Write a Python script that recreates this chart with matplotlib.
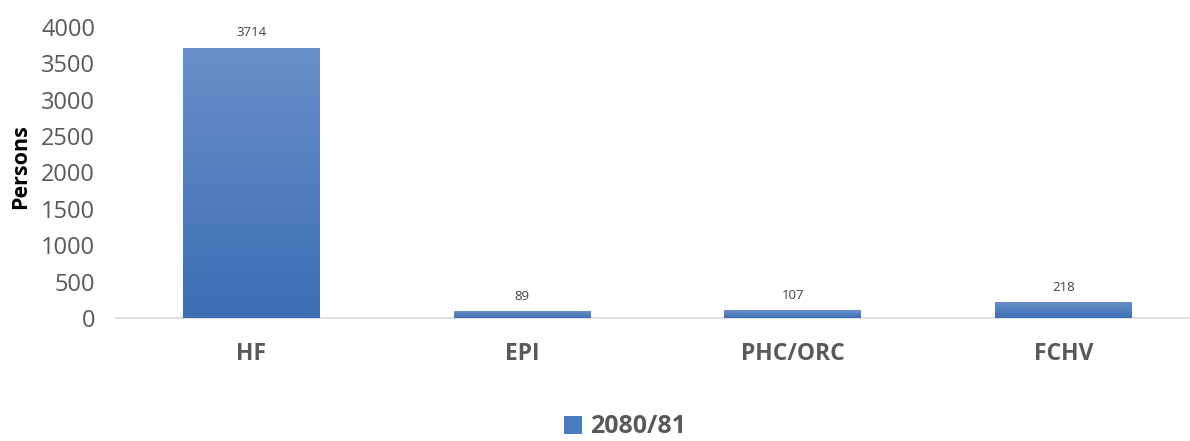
import numpy as np
import matplotlib
matplotlib.use("Agg")
import matplotlib.pyplot as plt
from matplotlib.colors import LinearSegmentedColormap
from matplotlib.patches import Patch

categories = ["HF", "EPI", "PHC/ORC", "FCHV"]
values = [3714, 89, 107, 218]
series_name = "2080/81"
yticks = [0, 500, 1000, 1500, 2000, 2500, 3000, 3500, 4000]

plt.rcParams['font.family'] = ['Open Sans', 'DejaVu Sans']

fig = plt.figure(figsize=(11.9, 4.41), dpi=100)
ax = fig.add_axes([0.0975, 0.279, 0.910, 0.660])

x = np.arange(len(categories))
bars = ax.bar(x, values, width=0.506, color="#4a7cc0", zorder=2)

# vertikal gradient i søylene
cmap = LinearSegmentedColormap.from_list("blue", ["#3b6eb4", "#6990c8"])
grad = np.linspace(0, 1, 256).reshape(-1, 1)
for b in bars:
    bx, by = b.get_x(), b.get_y()
    w, h = b.get_width(), b.get_height()
    im = ax.imshow(grad, extent=[bx, bx + w, by, by + h], origin="lower",
                   cmap=cmap, aspect="auto", zorder=3)
    im.set_clip_path(b)

for xi, v in zip(x, values):
    ax.annotate(str(v), (xi, v), xytext=(0, 6), textcoords="offset points",
                ha="center", va="bottom", fontsize=9.5, color="#404040")

ax.set_xlim(-0.5, 3.5)
ax.set_ylim(0, 4000)
ax.set_yticks(yticks)
ax.set_yticklabels([str(t) for t in yticks], fontsize=17, color="#595959")
ax.set_xticks(x)
ax.set_xticklabels(categories, fontsize=16.5, fontweight="bold", color="#595959")
ax.tick_params(axis="both", length=0)
ax.tick_params(axis="x", pad=17)
ax.tick_params(axis="y", pad=15)

for s in ["top", "right", "left"]:
    ax.spines[s].set_visible(False)
ax.spines["bottom"].set_color("#d9d9d9")
ax.spines["bottom"].set_linewidth(1.2)

ax.set_ylabel("Persons", fontsize=15.5, fontweight="bold", color="black")
ax.yaxis.set_label_coords(-0.078, 0.52)

handles = [Patch(facecolor="#4a7cc0", label=series_name)]
leg = fig.legend(handles=handles, loc="center", bbox_to_anchor=(0.525, 0.032),
                 frameon=False, handlelength=0.75, handleheight=0.75, handletextpad=0.3,
                 prop={"size": 18, "weight": "bold"})
for t in leg.get_texts():
    t.set_color("#595959")

fig.savefig("out.png", dpi=100)
